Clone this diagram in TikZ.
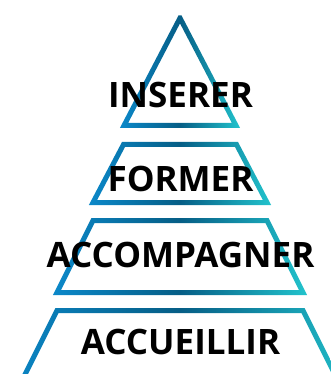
\documentclass[tikz,border=0pt]{standalone}
\usepackage{fontspec}
\setmainfont{Open Sans}
\definecolor{pyrblue}{HTML}{0B88C9}
\definecolor{pyrnavy}{HTML}{065E86}
\definecolor{pyrcyan}{HTML}{22C3CC}

\tikzset{
  level/.style={even odd rule, left color=pyrblue, right color=pyrcyan, middle color=pyrnavy},
  levelname/.style={font=\fontsize{35}{35}\selectfont\bfseries, text=black, anchor=base, inner sep=0pt}
}

\begin{document}
\begin{tikzpicture}[x=1pt,y=-1pt]
  \useasboundingbox (0,0) rectangle (331,374);
  \clip (0,0) rectangle (331,374);

  % pyramid levels: top y / bottom y / top half width / bottom half width
  \foreach \ytop/\ybot/\wtop/\wbot in {18/125.5/0/56, 144.5/202.5/56.5/87, 220.5/292.5/87/123, 310.5/420/123/177.75} {
    \pgfmathsetmacro\slope{(\wbot-\wtop)/(\ybot-\ytop)}
    \pgfmathsetmacro\off{2.5*sqrt(1+\slope*\slope)}
    \pgfmathsetmacro\outtop{\wtop-\slope*2.5+\off}
    \pgfmathsetmacro\outbot{\wbot+\slope*2.5+\off}
    \pgfmathsetmacro\intop{max(0,\wtop+\slope*2.5-\off)}
    \pgfmathsetmacro\inty{max(\ytop+2.5,\ytop+(\off-\wtop)/\slope)}
    \pgfmathsetmacro\inbot{\wbot-\slope*2.5-\off}
    \shade[level] (180-\outtop,\ytop-2.5) -- (180+\outtop,\ytop-2.5)
        -- (180+\outbot,\ybot+2.5) -- (180-\outbot,\ybot+2.5) -- cycle
      (180-\intop,\inty) -- (180+\intop,\inty)
        -- (180+\inbot,\ybot-2.5) -- (180-\inbot,\ybot-2.5) -- cycle;
  }

  % level names
  \node[levelname] (inserer) at (180.5,108) {INSERER};
  \node[levelname] (former) at (180.5,191) {FORMER};
  \node[levelname] (accompagner) at (180.5,267) {ACCOMPAGNER};
  \node[levelname] (accueillir) at (180.5,354) {ACCUEILLIR};
\end{tikzpicture}
\end{document}
